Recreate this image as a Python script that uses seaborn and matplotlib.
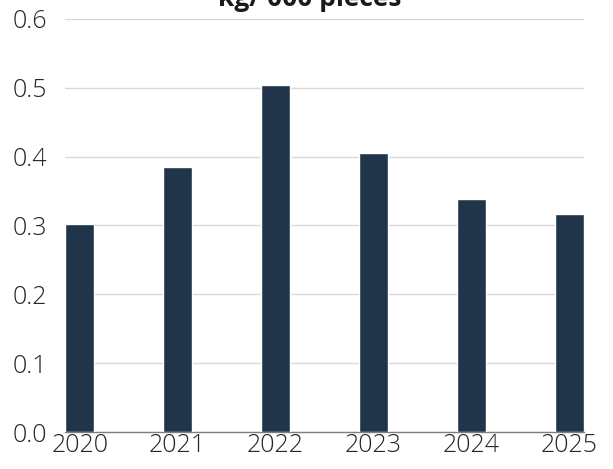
import matplotlib
matplotlib.use("Agg")
import matplotlib.pyplot as plt
import seaborn as sns
import pandas as pd

years = ["2020", "2021", "2022", "2023", "2024", "2025"]
values = [0.302, 0.385, 0.504, 0.405, 0.339, 0.317]
y_ticks = [0.0, 0.1, 0.2, 0.3, 0.4, 0.5, 0.6]

df = pd.DataFrame({"year": years, "value": values})

sns.set_theme(style="white")
plt.rcParams["font.family"] = ["Open Sans", "DejaVu Sans"]

fig = plt.figure(figsize=(6.13, 4.69), dpi=100)
ax = fig.add_axes([65 / 613, 1 - 432 / 469, (584 - 65) / 613, (432 - 19) / 469])

sns.barplot(data=df, x="year", y="value", color="#203549", width=0.3,
            saturation=1, ax=ax, zorder=3)

ax.set_xlim(-0.15, 5.15)
ax.set_ylim(0, 0.6)
ax.set_yticks(y_ticks)
ax.set_yticklabels([f"{t:.1f}" for t in y_ticks])
ax.yaxis.grid(True, color="#d9d9d9", linewidth=1, zorder=0)
ax.set_axisbelow(True)

for side in ["top", "right", "left"]:
    ax.spines[side].set_visible(False)
ax.spines["bottom"].set_color("#7f7f7f")
ax.spines["bottom"].set_linewidth(1)

ax.tick_params(axis="both", length=0, labelsize=18, colors="#262626")
ax.tick_params(axis="y", pad=13)
ax.tick_params(axis="x", pad=1)
for lbl in ax.get_xticklabels() + ax.get_yticklabels():
    lbl.set_fontweight("light")
ax.set_xlabel("")
ax.set_ylabel("")

fig.text(310 / 613, 1 - 6 / 469, "kg/ 000 pieces", ha="center", va="baseline",
         fontsize=19, fontweight="bold", color="#1a1a1a")

fig.savefig("out.png", dpi=100)
